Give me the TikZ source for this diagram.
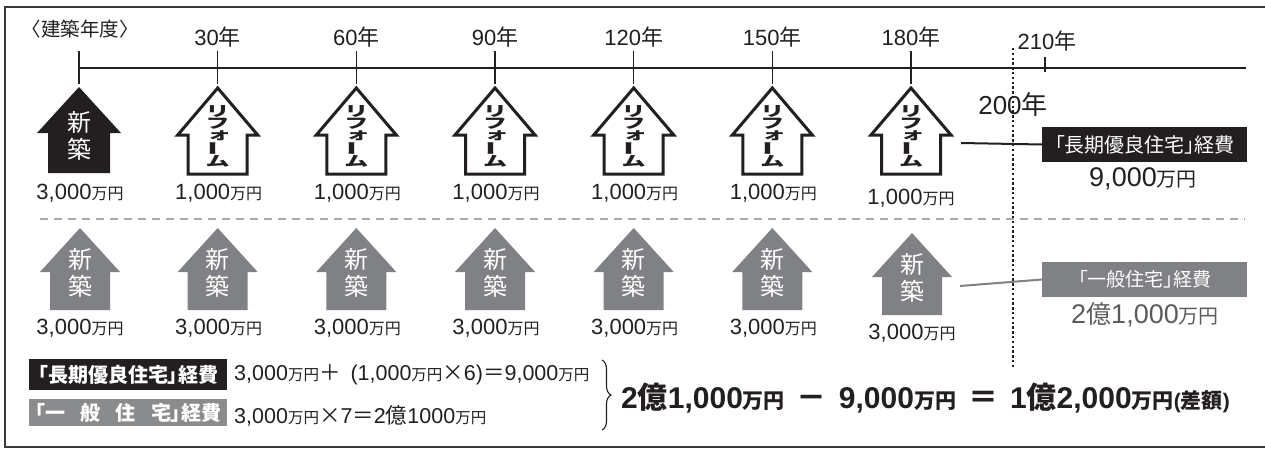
\documentclass[tikz,border=0pt]{standalone}
\usepackage{graphicx}
\usepackage{fontspec}
\setmainfont{Liberation Sans}
\newfontfamily\cjk{Noto Sans CJK JP}
\newfontfamily\cjkp{Noto Sans CJK JP}[RawFeature=+palt]
\usetikzlibrary{decorations.pathreplacing}
\definecolor{ink}{HTML}{231F20}
\definecolor{hgray}{HTML}{808184}
\definecolor{lgray}{HTML}{8A8B8D}
\definecolor{tgray}{HTML}{5A5B5D}
\definecolor{dgray}{HTML}{A7A9AC}
\definecolor{framec}{HTML}{3A3A3C}
\newcommand\fs[1]{\fontsize{#1}{#1}\selectfont}
\newcommand\jj[1]{{\cjk #1}}
\newcommand\mnA{{\cjk\fs{16}万円}}
\newcommand\vk[1]{\scalebox{1.2}[0.7]{#1}}
\newcommand\rrow[1]{\hbox to 30pt{\hss\vbox to 12.5pt{\vss\hbox{#1}\vss}\hss}}
\newcommand\reformstack{\vbox{\offinterlineskip
  \rrow{\vk{リ}}\rrow{\vk{フ}}\rrow{\hspace*{3pt}\vk{ォ}}%
  \rrow{\rotatebox{90}{\scalebox{0.7}[1.5]{ー}}}\rrow{\vk{ム}}}}
\tikzset{
  pics/blackhouse/.style={code={
    \fill[ink] (0,0) -- (42,46) -- (31,46) -- (31,86) -- (-31,86) -- (-31,46) -- (-42,46) -- cycle;
    \node[housetxt] (-a) at (0,35) {新};
    \node[housetxt] (-b) at (0,62) {築};
    \coordinate (-e) at (50,55);
  }},
  pics/grayhouse/.style={code={
    \fill[hgray] (0,0) -- (40,44) -- (30,44) -- (30,82) -- (-30,82) -- (-30,44) -- (-40,44) -- cycle;
    \node[housetxt] (-a) at (0,31) {新};
    \node[housetxt] (-b) at (0,58) {築};
    \coordinate (-e) at (48,53);
  }},
  pics/reformhouse/.style={code={
    \draw[line width=3pt, line join=miter, ink, fill=white] (0,0) -- (40,47) -- (29.5,47) -- (29.5,86) -- (-29.5,86) -- (-29.5,47) -- (-40,47) -- cycle;
    \node[reftxt] (-t) at (0,48) {\reformstack};
    \coordinate (-e) at (50,55);
  }},
  housetxt/.style={text=white, font=\cjk\fs{24}, inner sep=0pt},
  reftxt/.style={text=ink, font=\cjk\bfseries\fs{20}, inner sep=0pt},
  yearlbl/.style={text=ink, font=\fs{22}, inner sep=0pt},
  price/.style={text=ink, font=\fs{22}, inner sep=0pt},
  tick/.style={draw=ink, line width=1.1pt},
}
\begin{document}
\begin{tikzpicture}[x=1pt,y=-1pt]
\useasboundingbox (0,0) rectangle (1265,455);
% frame
\draw[line width=2.6pt, framec] (1265,7) -- (5,7) -- (5,447) -- (1265,447);
% timeline
\draw[tick] (79,68) -- (1246,68);
\foreach \x in {79,217.7,356.3,495,633.7,772.3,911} \draw[tick] (\x,51) -- (\x,84);
\draw[tick] (1045,57) -- (1045,72);
% year labels
\node[text=ink, font=\cjk\fs{19.5}, inner sep=0pt] (y0) at (80,29) {〈建築年度〉};
\node[yearlbl] (y1) at (217.7,37) {30\jj{年}};
\node[yearlbl] (y2) at (356.3,37) {60\jj{年}};
\node[yearlbl] (y3) at (495,37) {90\jj{年}};
\node[yearlbl] (y4) at (633.7,37) {120\jj{年}};
\node[yearlbl] (y5) at (772.3,37) {150\jj{年}};
\node[yearlbl] (y6) at (911,37) {180\jj{年}};
\node[yearlbl] (y7) at (1047,41) {210\jj{年}};
\node[text=ink, font=\fs{26}, inner sep=0pt] (y200) at (1013,105) {200\jj{年}};
% dotted divider
\draw[ink, line width=2.6pt, dash pattern=on 2.4pt off 2.4pt] (1013,48) -- (1013,368);
% dashed separator
\draw[dgray, line width=1.2pt, dash pattern=on 8pt off 6pt] (40,219) -- (1245,219);
% top row
\pic (t0) at (79,87) {blackhouse};
\pic (t1) at (217.7,88) {reformhouse};
\pic (t2) at (356.3,88) {reformhouse};
\pic (t3) at (495,88) {reformhouse};
\pic (t4) at (633.7,88) {reformhouse};
\pic (t5) at (772.3,88) {reformhouse};
\pic (t6) at (911,88) {reformhouse};
\node[price] (p0) at (80,193) {3,000\mnA};
\node[price] (p1) at (218.7,193) {1,000\mnA};
\node[price] (p2) at (357.3,193) {1,000\mnA};
\node[price] (p3) at (496,193) {1,000\mnA};
\node[price] (p4) at (634.7,193) {1,000\mnA};
\node[price] (p5) at (773.3,193) {1,000\mnA};
\node[price] (p6) at (911,198) {1,000\mnA};
% bottom row
\pic (b0) at (80,228) {grayhouse};
\pic (b1) at (217.7,228) {grayhouse};
\pic (b2) at (356.3,228) {grayhouse};
\pic (b3) at (495,228) {grayhouse};
\pic (b4) at (633.7,228) {grayhouse};
\pic (b5) at (772.3,228) {grayhouse};
\pic (b6) at (912,233) {grayhouse};
\node[price] (q0) at (80,328) {3,000\mnA};
\node[price] (q1) at (218.7,328) {3,000\mnA};
\node[price] (q2) at (357.3,328) {3,000\mnA};
\node[price] (q3) at (496,328) {3,000\mnA};
\node[price] (q4) at (634.7,328) {3,000\mnA};
\node[price] (q5) at (773.3,328) {3,000\mnA};
\node[price] (q6) at (912,333) {3,000\mnA};
% right boxes
\node[fill=ink, text=white, font=\cjkp\fs{20}, minimum width=205pt, minimum height=35pt, inner sep=0pt, anchor=west] (bx1) at (1042,144.5) {「長期優良住宅」経費};
\node[price, font=\fs{27}] (s1) at (1143,179) {9,000{\cjk\fs{20}万円}};
\node[fill=hgray, text=white, font=\cjkp\fs{19}, minimum width=205pt, minimum height=35pt, inner sep=0pt, anchor=west] (bx2) at (1042,279.5) {「一般住宅」経費};
\node[price, text=tgray, font=\fs{27}] (s2) at (1145,315) {2\jj{\fs{25}億}1,000{\cjk\fs{20}万円}};
\draw[ink, line width=2pt] (t6-e) -- (bx1.west);
\draw[hgray, line width=2pt] (b6-e) -- (bx2.west);
% bottom summary
\node[fill=ink, text=white, font=\cjkp\bfseries\fs{20}, minimum width=198pt, minimum height=31pt, inner sep=0pt] (la) at (128,374.5) {「長期優良住宅」経費};
\node[fill=lgray, text=white, font=\cjkp\bfseries\fs{20}, minimum width=198pt, minimum height=27pt, inner sep=0pt] (lb) at (128,412.5) {\makebox[186pt][s]{「一\hfill 般\hfill 住\hfill 宅」経費}};
\node[text=ink, font=\fs{21.5}, inner sep=0pt, anchor=west] (fa) at (234,375) {3,000{\cjk\fs{15.5}万円}\jj{＋}\kern10pt(1,000{\cjk\fs{15.5}万円}\jj{×}6)\jj{＝}9,000{\cjk\fs{15.5}万円}};
\node[text=ink, font=\fs{21.5}, inner sep=0pt, anchor=west] (fb) at (234,416) {3,000{\cjk\fs{15.5}万円}\jj{×}7\jj{＝}2\jj{億}1000{\cjk\fs{15.5}万円}};
\coordinate (brT) at (602,360);
\coordinate (brB) at (602,430);
\draw[ink, line width=1.1pt, decorate, decoration={brace, amplitude=9pt}] (brT) -- (brB);
\node[text=ink, font=\bfseries\fs{30}, inner sep=0pt, anchor=west] (big) at (621,398) {2\jj{\bfseries 億}1,000{\cjk\bfseries\fs{21}万円}\hspace{12pt}\jj{\bfseries －}\hspace{12pt}9,000{\cjk\bfseries\fs{21}万円}\hspace{12pt}\jj{\bfseries ＝}\hspace{12pt}1\jj{\bfseries 億}2,000{\cjk\bfseries\fs{21}万円}{\fs{21}(\jj{\bfseries 差額})}};
\end{tikzpicture}
\end{document}
